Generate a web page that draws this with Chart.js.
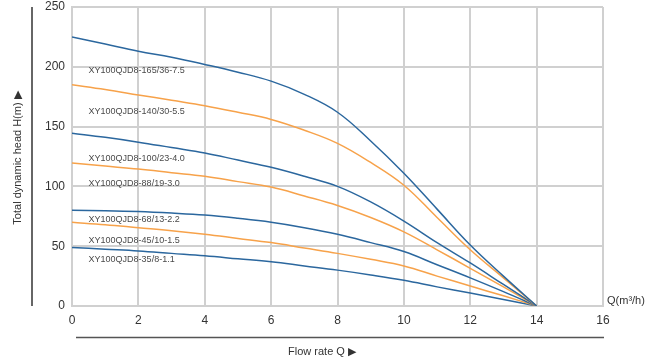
<!DOCTYPE html>
<html>
<head>
<meta charset="utf-8">
<script src="https://cdn.jsdelivr.net/npm/chart.js@4"></script>
<style>
  html, body { margin: 0; padding: 0; background: #fff; }
  #wrap { width: 650px; height: 362px; position: relative; }
</style>
</head>
<body>
<div id="wrap"><canvas id="pumpChart"></canvas></div>
<script>
// flow rate Q (m3/h) sample points
const flowQ = [0, 1, 2, 3, 4, 5, 6, 7, 8, 9, 10, 11, 12, 13, 14];

// head H (m) per pump model, read at flowQ
const head165 = [225, 219, 213, 208, 202, 195.5, 188, 177, 162, 138, 111, 81, 51, 25, 0];
const head140 = [185, 181, 176.5, 172, 167.5, 162, 156, 147, 136, 120, 101, 74, 47, 23.5, 0];
const head100 = [144.5, 141, 137, 132.5, 128, 122, 116, 108.5, 100, 87, 71, 53, 36, 18, 0];
const head88  = [119.5, 117, 114.5, 111.5, 108.5, 104, 99.5, 92, 84, 74, 62, 47, 31.5, 16, 0];
const head68  = [80, 79.7, 79, 77.7, 76, 73.3, 70, 65.5, 60, 53, 45.5, 34.5, 23.5, 12, 0];
const head45  = [70, 68, 65.5, 63, 60, 56.5, 53, 48.5, 44, 39, 33.5, 25, 16.7, 8.5, 0];
const head35  = [49, 47.5, 46, 44, 42, 39.5, 37, 33.5, 30, 26, 21.5, 16, 10.8, 5.4, 0];

const models = [
    'XY100QJD8-165/36-7.5',
    'XY100QJD8-140/30-5.5',
    'XY100QJD8-100/23-4.0',
    'XY100QJD8-88/19-3.0',
    'XY100QJD8-68/13-2.2',
    'XY100QJD8-45/10-1.5',
    'XY100QJD8-35/8-1.1',
];
// label anchors (Q, H) for the model names
const labelQ = 0.5;
const labelH = [196.5, 163, 123, 102.5, 72, 55, 38.5];

const xTicks = [0, 2, 4, 6, 8, 10, 12, 14, 16];
const yTicks = [0, 50, 100, 150, 200, 250];

const BLUE = '#2b679e';
const ORANGE = '#f7a24a';
const allHeads = [head165, head140, head100, head88, head68, head45, head35];

const datasets = allHeads.map((h, i) => ({
    label: models[i],
    data: flowQ.map((q, j) => ({ x: q, y: h[j] })),
    borderColor: i % 2 === 0 ? BLUE : ORANGE,
    borderWidth: 1.5,
    pointRadius: 0,
    fill: false,
    tension: 0.4,
}));

const decor = {
    id: 'decor',
    afterDraw(chart) {
        const { ctx, scales: { x, y } } = chart;
        ctx.save();
        // model names
        ctx.fillStyle = '#4a4a4a';
        ctx.font = '9px "Liberation Sans", Arial, sans-serif';
        ctx.textAlign = 'left';
        ctx.textBaseline = 'middle';
        models.forEach((m, i) => {
            ctx.fillText(m, x.getPixelForValue(labelQ), y.getPixelForValue(labelH[i]));
        });

        // y title with arrow
        ctx.fillStyle = '#333';
        ctx.font = '11px "Liberation Sans", Arial, sans-serif';
        ctx.save();
        ctx.translate(18, 158);
        ctx.rotate(-Math.PI / 2);
        ctx.textAlign = 'center';
        ctx.fillText('Total dynamic head H(m) \u25B6', 0, 0);
        ctx.restore();

        // side line
        ctx.strokeStyle = '#333';
        ctx.lineWidth = 1.5;
        ctx.beginPath();
        ctx.moveTo(32, 7);
        ctx.lineTo(32, y.getPixelForValue(0));
        ctx.stroke();

        // bottom line + x title
        ctx.strokeStyle = '#555';
        ctx.beginPath();
        ctx.moveTo(76, 337.5);
        ctx.lineTo(604, 337.5);
        ctx.stroke();
        ctx.textAlign = 'center';
        ctx.fillText('Flow rate Q \u25B6', 322, 352);

        // unit label
        ctx.textAlign = 'left';
        ctx.fillText('Q(m\u00B3/h)', 607, y.getPixelForValue(4));
        ctx.restore();
    }
};

new Chart(document.getElementById('pumpChart'), {
    type: 'line',
    data: { datasets },
    options: {
        responsive: true,
        maintainAspectRatio: false,
        animation: false,
        layout: { padding: { top: 0, right: 47, bottom: 0, left: 0 } },
        plugins: {
            legend: { display: false },
            tooltip: { enabled: false },
        },
        scales: {
            x: {
                type: 'linear', min: 0, max: 16,
                afterBuildTicks: s => { s.ticks = xTicks.map(v => ({ value: v })); },
                afterFit: s => { s.height = 56; },
                grid: { color: '#d0d0d0', lineWidth: 2, drawTicks: false },
                border: { color: '#d0d0d0', width: 2 },
                ticks: { color: '#333', padding: 7, font: { family: '"Liberation Sans", Arial, sans-serif', size: 12 } },
            },
            y: {
                type: 'linear', min: 0, max: 250,
                afterBuildTicks: s => { s.ticks = yTicks.map(v => ({ value: v })); },
                afterFit: s => { s.width = 72; s.paddingTop = 7; s.paddingBottom = 0; },
                grid: { color: '#d0d0d0', lineWidth: 2, drawTicks: false },
                border: { color: '#d0d0d0', width: 2 },
                ticks: { color: '#333', padding: 7, font: { family: '"Liberation Sans", Arial, sans-serif', size: 12 } },
            },
        },
    },
    plugins: [decor],
});
</script>
</body>
</html>
